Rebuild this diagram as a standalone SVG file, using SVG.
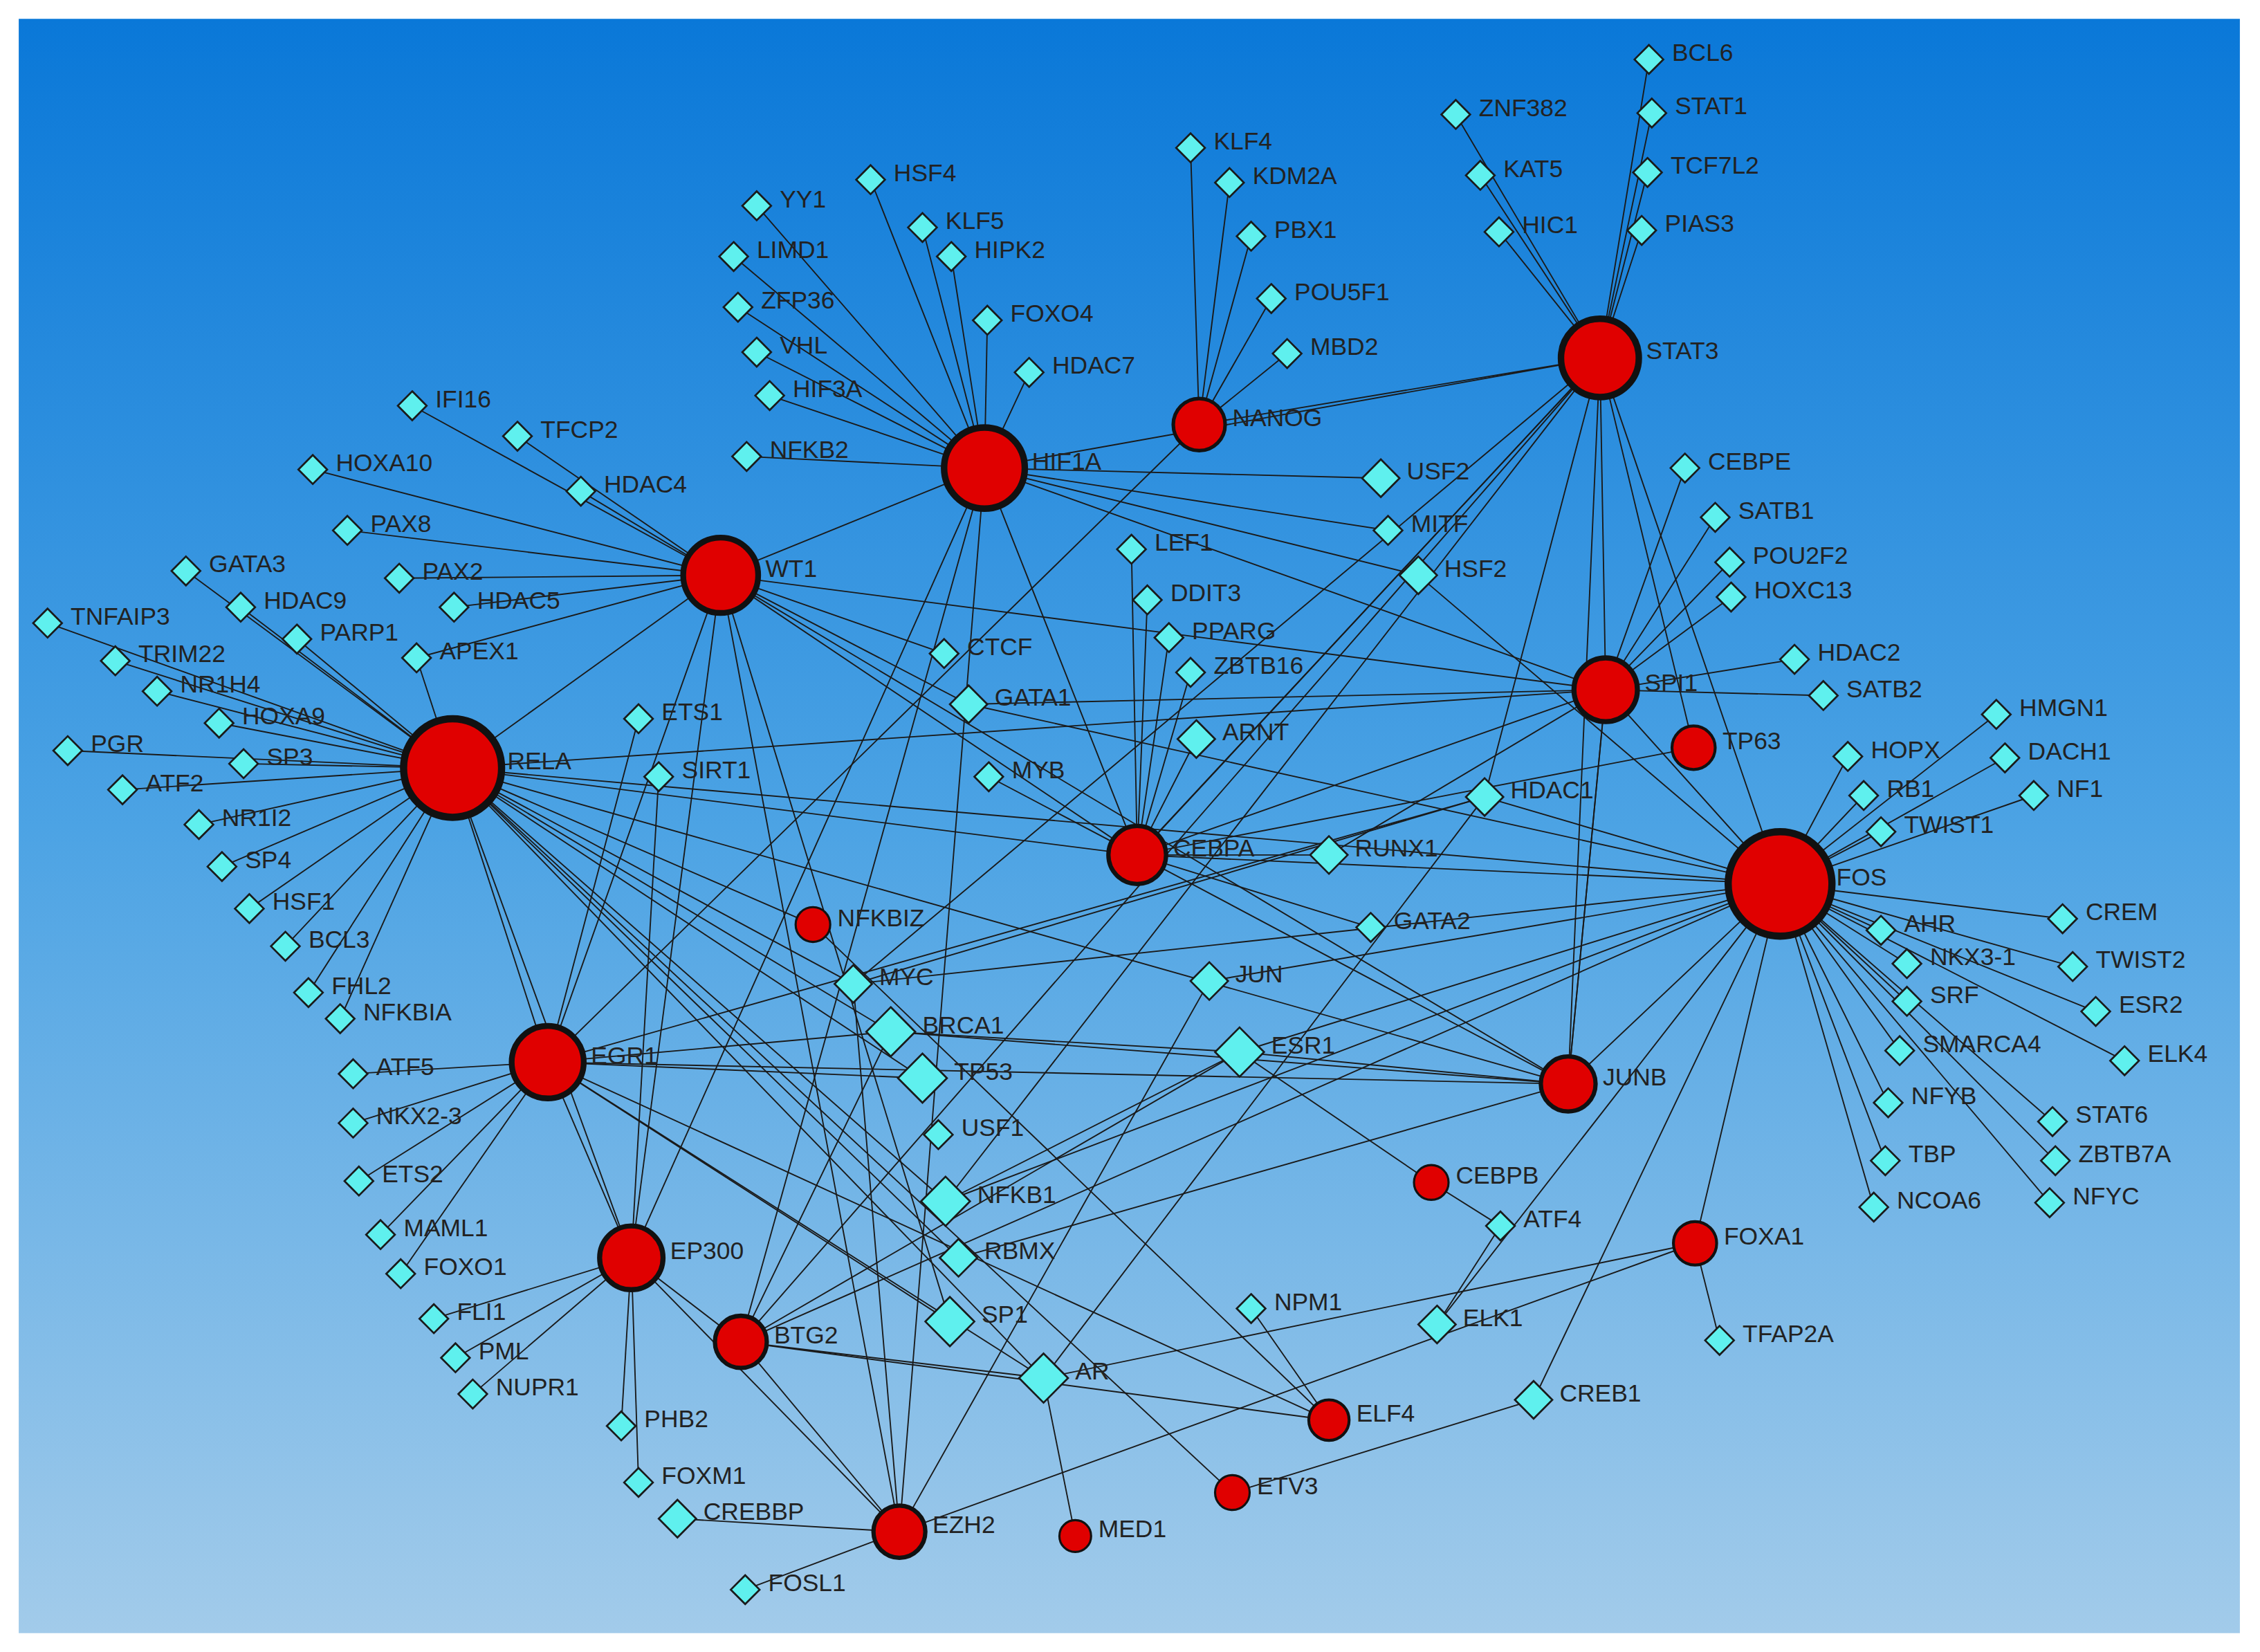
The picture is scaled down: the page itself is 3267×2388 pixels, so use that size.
<svg xmlns="http://www.w3.org/2000/svg" xmlns:xlink="http://www.w3.org/1999/xlink" width="3267" height="2388" viewBox="0 0 3267 2388">
<defs>
<linearGradient id="bg" x1="0" y1="0" x2="0" y2="1"><stop offset="0" stop-color="#0a78d8"/><stop offset="0.5" stop-color="#4ca3e4"/><stop offset="1" stop-color="#a2cbea"/></linearGradient>
<path id="d" d="M0,-10 L10,0 0,10 -10,0Z"/>
<path id="dm" d="M0,-13 L13,0 0,13 -13,0Z"/>
<path id="dl" d="M0,-17 L17,0 0,17 -17,0Z"/>
</defs>
<style>
.e line{stroke:#1a1a1a;stroke-width:0.9}
use{fill:#5ff0ee;stroke:#1a1a1a;stroke-width:1.3}
circle{fill:#e00000;stroke:#111}
text{font-family:"Liberation Sans",Arial,sans-serif;font-size:17px;fill:#222}
</style>
<rect width="3267" height="2388" fill="#fff"/>
<g transform="scale(2.0836,2.0947)">
<rect x="13" y="13" width="1541" height="1114" fill="url(#bg)"/>
<g class="e" id="connectors">
<!-- STAT3 -->
<line x1="1110" y1="247" x2="1144" y2="41"/><line x1="1110" y1="247" x2="1146" y2="78"/><line x1="1110" y1="247" x2="1143" y2="119"/><line x1="1110" y1="247" x2="1139" y2="159"/><line x1="1110" y1="247" x2="1010" y2="79"/><line x1="1110" y1="247" x2="1027" y2="121"/><line x1="1110" y1="247" x2="1040" y2="160"/>
<line x1="1110" y1="247" x2="832" y2="293"/><line x1="1110" y1="247" x2="683" y2="323"/><line x1="1110" y1="247" x2="1114" y2="476"/><line x1="1110" y1="247" x2="1235" y2="610"/><line x1="1110" y1="247" x2="1175" y2="516"/><line x1="1110" y1="247" x2="789" y2="590"/><line x1="1110" y1="247" x2="794" y2="585"/><line x1="1110" y1="247" x2="1088" y2="748"/><line x1="1110" y1="247" x2="592" y2="679"/><line x1="1110" y1="247" x2="1030" y2="550"/><line x1="1110" y1="247" x2="514" y2="926"/>
<!-- NANOG -->
<line x1="832" y1="293" x2="826" y2="102"/><line x1="832" y1="293" x2="853" y2="126"/><line x1="832" y1="293" x2="868" y2="163"/><line x1="832" y1="293" x2="882" y2="206"/><line x1="832" y1="293" x2="893" y2="244"/><line x1="832" y1="293" x2="380" y2="733"/>
<!-- HIF1A -->
<line x1="683" y1="323" x2="604" y2="124"/><line x1="683" y1="323" x2="525" y2="142"/><line x1="683" y1="323" x2="640" y2="157"/><line x1="683" y1="323" x2="660" y2="177"/><line x1="683" y1="323" x2="509" y2="177"/><line x1="683" y1="323" x2="512" y2="212"/><line x1="683" y1="323" x2="685" y2="221"/><line x1="683" y1="323" x2="525" y2="243"/><line x1="683" y1="323" x2="714" y2="257"/><line x1="683" y1="323" x2="534" y2="273"/><line x1="683" y1="323" x2="518" y2="315"/>
<line x1="683" y1="323" x2="500" y2="397"/><line x1="683" y1="323" x2="958" y2="330"/><line x1="683" y1="323" x2="963" y2="366"/><line x1="683" y1="323" x2="984" y2="397"/><line x1="683" y1="323" x2="789" y2="590"/><line x1="683" y1="323" x2="624" y2="1057"/><line x1="683" y1="323" x2="438" y2="868"/><line x1="683" y1="323" x2="514" y2="926"/><line x1="683" y1="323" x2="1114" y2="476"/><line x1="984" y1="397" x2="1235" y2="610"/>
<!-- WT1 -->
<line x1="500" y1="397" x2="286" y2="280"/><line x1="500" y1="397" x2="359" y2="301"/><line x1="500" y1="397" x2="217" y2="324"/><line x1="500" y1="397" x2="403" y2="339"/><line x1="500" y1="397" x2="241" y2="366"/><line x1="500" y1="397" x2="277" y2="399"/><line x1="500" y1="397" x2="315" y2="419"/><line x1="500" y1="397" x2="289" y2="454"/>
<line x1="500" y1="397" x2="314" y2="530"/><line x1="500" y1="397" x2="655" y2="451"/><line x1="500" y1="397" x2="672" y2="486"/><line x1="500" y1="397" x2="789" y2="590"/><line x1="500" y1="397" x2="438" y2="868"/><line x1="500" y1="397" x2="380" y2="733"/><line x1="500" y1="397" x2="659" y2="912"/><line x1="500" y1="397" x2="1088" y2="748"/><line x1="500" y1="397" x2="1114" y2="476"/>
<!-- RELA -->
<line x1="314" y1="530" x2="129" y2="394"/><line x1="314" y1="530" x2="167" y2="419"/><line x1="314" y1="530" x2="206" y2="441"/><line x1="314" y1="530" x2="33" y2="430"/><line x1="314" y1="530" x2="80" y2="456"/><line x1="314" y1="530" x2="109" y2="477"/><line x1="314" y1="530" x2="152" y2="499"/><line x1="314" y1="530" x2="47" y2="518"/><line x1="314" y1="530" x2="169" y2="527"/><line x1="314" y1="530" x2="85" y2="545"/><line x1="314" y1="530" x2="138" y2="569"/><line x1="314" y1="530" x2="154" y2="598"/><line x1="314" y1="530" x2="173" y2="627"/><line x1="314" y1="530" x2="198" y2="653"/><line x1="314" y1="530" x2="214" y2="685"/><line x1="314" y1="530" x2="236" y2="703"/><line x1="314" y1="530" x2="289" y2="454"/>
<line x1="314" y1="530" x2="380" y2="733"/><line x1="314" y1="530" x2="438" y2="868"/><line x1="314" y1="530" x2="789" y2="590"/><line x1="314" y1="530" x2="1114" y2="476"/><line x1="314" y1="530" x2="1088" y2="748"/><line x1="314" y1="530" x2="656" y2="829"/><line x1="314" y1="530" x2="640" y2="744"/><line x1="314" y1="530" x2="724" y2="951"/><line x1="314" y1="530" x2="618" y2="712"/><line x1="314" y1="530" x2="592" y2="679"/><line x1="314" y1="530" x2="855" y2="1030"/><line x1="314" y1="530" x2="564" y2="638"/><line x1="314" y1="530" x2="665" y2="868"/>
<!-- FOS -->
<line x1="1235" y1="610" x2="1385" y2="493"/><line x1="1235" y1="610" x2="1282" y2="522"/><line x1="1235" y1="610" x2="1391" y2="523"/><line x1="1235" y1="610" x2="1293" y2="549"/><line x1="1235" y1="610" x2="1411" y2="549"/><line x1="1235" y1="610" x2="1305" y2="574"/><line x1="1235" y1="610" x2="1431" y2="634"/><line x1="1235" y1="610" x2="1305" y2="642"/><line x1="1235" y1="610" x2="1323" y2="665"/><line x1="1235" y1="610" x2="1438" y2="667"/><line x1="1235" y1="610" x2="1323" y2="691"/><line x1="1235" y1="610" x2="1454" y2="698"/><line x1="1235" y1="610" x2="1318" y2="725"/><line x1="1235" y1="610" x2="1474" y2="732"/><line x1="1235" y1="610" x2="1310" y2="761"/><line x1="1235" y1="610" x2="1424" y2="774"/><line x1="1235" y1="610" x2="1308" y2="801"/><line x1="1235" y1="610" x2="1426" y2="801"/><line x1="1235" y1="610" x2="1300" y2="833"/><line x1="1235" y1="610" x2="1422" y2="830"/>
<line x1="1235" y1="610" x2="1114" y2="476"/><line x1="1235" y1="610" x2="789" y2="590"/><line x1="1235" y1="610" x2="1088" y2="748"/><line x1="1235" y1="610" x2="1176" y2="858"/><line x1="1235" y1="610" x2="514" y2="926"/><line x1="1235" y1="610" x2="1030" y2="550"/><line x1="1235" y1="610" x2="860" y2="726"/><line x1="1235" y1="610" x2="839" y2="677"/><line x1="1235" y1="610" x2="1064" y2="966"/><line x1="1235" y1="610" x2="656" y2="829"/><line x1="1235" y1="610" x2="997" y2="914"/><line x1="1235" y1="610" x2="672" y2="486"/><line x1="1235" y1="610" x2="314" y2="530"/>
<!-- SPI1 -->
<line x1="1114" y1="476" x2="1169" y2="323"/><line x1="1114" y1="476" x2="1190" y2="357"/><line x1="1114" y1="476" x2="1200" y2="388"/><line x1="1114" y1="476" x2="1201" y2="412"/><line x1="1114" y1="476" x2="1245" y2="455"/><line x1="1114" y1="476" x2="1265" y2="480"/><line x1="1114" y1="476" x2="672" y2="486"/><line x1="1114" y1="476" x2="789" y2="590"/><line x1="1114" y1="476" x2="1088" y2="748"/><line x1="1114" y1="476" x2="922" y2="590"/>
<!-- CEBPA -->
<line x1="789" y1="590" x2="785" y2="379"/><line x1="789" y1="590" x2="796" y2="414"/><line x1="789" y1="590" x2="811" y2="440"/><line x1="789" y1="590" x2="826" y2="464"/><line x1="789" y1="590" x2="830" y2="510"/><line x1="789" y1="590" x2="951" y2="640"/><line x1="789" y1="590" x2="1088" y2="748"/><line x1="789" y1="590" x2="686" y2="536"/><line x1="789" y1="590" x2="1175" y2="516"/><line x1="789" y1="590" x2="922" y2="590"/>
<!-- EGR1 -->
<line x1="380" y1="733" x2="245" y2="741"/><line x1="380" y1="733" x2="245" y2="775"/><line x1="380" y1="733" x2="249" y2="815"/><line x1="380" y1="733" x2="264" y2="852"/><line x1="380" y1="733" x2="278" y2="879"/><line x1="380" y1="733" x2="438" y2="868"/><line x1="380" y1="733" x2="618" y2="712"/><line x1="380" y1="733" x2="640" y2="744"/><line x1="380" y1="733" x2="1088" y2="748"/><line x1="380" y1="733" x2="659" y2="912"/><line x1="380" y1="733" x2="724" y2="951"/><line x1="380" y1="733" x2="443" y2="496"/><line x1="380" y1="733" x2="922" y2="980"/><line x1="380" y1="733" x2="1030" y2="550"/>
<!-- EP300 -->
<line x1="438" y1="868" x2="301" y2="910"/><line x1="438" y1="868" x2="316" y2="937"/><line x1="438" y1="868" x2="328" y2="962"/><line x1="438" y1="868" x2="431" y2="984"/><line x1="438" y1="868" x2="443" y2="1023"/><line x1="438" y1="868" x2="514" y2="926"/><line x1="438" y1="868" x2="624" y2="1057"/><line x1="438" y1="868" x2="457" y2="536"/>
<!-- BTG2 -->
<line x1="514" y1="926" x2="618" y2="712"/><line x1="514" y1="926" x2="724" y2="951"/><line x1="514" y1="926" x2="922" y2="980"/><line x1="514" y1="926" x2="624" y2="1057"/><line x1="514" y1="926" x2="860" y2="726"/>
<!-- EZH2 -->
<line x1="624" y1="1057" x2="470" y2="1048"/><line x1="624" y1="1057" x2="517" y2="1097"/><line x1="624" y1="1057" x2="1176" y2="858"/><line x1="624" y1="1057" x2="839" y2="677"/><line x1="624" y1="1057" x2="500" y2="397"/><line x1="624" y1="1057" x2="592" y2="679"/>
<!-- JUNB / ESR1 / others -->
<line x1="1088" y1="748" x2="860" y2="726"/><line x1="1088" y1="748" x2="618" y2="712"/><line x1="1088" y1="748" x2="665" y2="868"/><line x1="1088" y1="748" x2="1114" y2="476"/>
<line x1="860" y1="726" x2="993" y2="816"/><line x1="860" y1="726" x2="656" y2="829"/><line x1="860" y1="726" x2="618" y2="712"/>
<line x1="724" y1="951" x2="1176" y2="858"/><line x1="724" y1="951" x2="746" y2="1060"/><line x1="724" y1="951" x2="1030" y2="550"/>
<line x1="1176" y1="858" x2="1193" y2="925"/>
<line x1="922" y1="980" x2="868" y2="903"/><line x1="922" y1="980" x2="564" y2="638"/>
<line x1="855" y1="1030" x2="1064" y2="966"/>
<line x1="993" y1="816" x2="1041" y2="846"/>
<line x1="997" y1="914" x2="1041" y2="846"/>
<line x1="592" y1="679" x2="1030" y2="550"/><line x1="592" y1="679" x2="1235" y2="610"/>
<line x1="656" y1="829" x2="1110" y2="247"/>
</g>
<g id="diamonds">
<g id="BCL6"><use href="#d" x="1144" y="41"/><text x="1160" y="42">BCL6</text></g>
<g id="STAT1"><use href="#d" x="1146" y="78"/><text x="1162" y="79">STAT1</text></g>
<g id="TCF7L2"><use href="#d" x="1143" y="119"/><text x="1159" y="120">TCF7L2</text></g>
<g id="PIAS3"><use href="#d" x="1139" y="159"/><text x="1155" y="160">PIAS3</text></g>
<g id="ZNF382"><use href="#d" x="1010" y="79"/><text x="1026" y="80">ZNF382</text></g>
<g id="KAT5"><use href="#d" x="1027" y="121"/><text x="1043" y="122">KAT5</text></g>
<g id="HIC1"><use href="#d" x="1040" y="160"/><text x="1056" y="161">HIC1</text></g>
<g id="KLF4"><use href="#d" x="826" y="102"/><text x="842" y="103">KLF4</text></g>
<g id="KDM2A"><use href="#d" x="853" y="126"/><text x="869" y="127">KDM2A</text></g>
<g id="PBX1"><use href="#d" x="868" y="163"/><text x="884" y="164">PBX1</text></g>
<g id="POU5F1"><use href="#d" x="882" y="206"/><text x="898" y="207">POU5F1</text></g>
<g id="MBD2"><use href="#d" x="893" y="244"/><text x="909" y="245">MBD2</text></g>
<g id="HSF4"><use href="#d" x="604" y="124"/><text x="620" y="125">HSF4</text></g>
<g id="YY1"><use href="#d" x="525" y="142"/><text x="541" y="143">YY1</text></g>
<g id="KLF5"><use href="#d" x="640" y="157"/><text x="656" y="158">KLF5</text></g>
<g id="HIPK2"><use href="#d" x="660" y="177"/><text x="676" y="178">HIPK2</text></g>
<g id="LIMD1"><use href="#d" x="509" y="177"/><text x="525" y="178">LIMD1</text></g>
<g id="ZFP36"><use href="#d" x="512" y="212"/><text x="528" y="213">ZFP36</text></g>
<g id="FOXO4"><use href="#d" x="685" y="221"/><text x="701" y="222">FOXO4</text></g>
<g id="VHL"><use href="#d" x="525" y="243"/><text x="541" y="244">VHL</text></g>
<g id="HDAC7"><use href="#d" x="714" y="257"/><text x="730" y="258">HDAC7</text></g>
<g id="HIF3A"><use href="#d" x="534" y="273"/><text x="550" y="274">HIF3A</text></g>
<g id="NFKB2"><use href="#d" x="518" y="315"/><text x="534" y="316">NFKB2</text></g>
<g id="IFI16"><use href="#d" x="286" y="280"/><text x="302" y="281">IFI16</text></g>
<g id="TFCP2"><use href="#d" x="359" y="301"/><text x="375" y="302">TFCP2</text></g>
<g id="HOXA10"><use href="#d" x="217" y="324"/><text x="233" y="325">HOXA10</text></g>
<g id="HDAC4"><use href="#d" x="403" y="339"/><text x="419" y="340">HDAC4</text></g>
<g id="PAX8"><use href="#d" x="241" y="366"/><text x="257" y="367">PAX8</text></g>
<g id="PAX2"><use href="#d" x="277" y="399"/><text x="293" y="400">PAX2</text></g>
<g id="HDAC5"><use href="#d" x="315" y="419"/><text x="331" y="420">HDAC5</text></g>
<g id="GATA3"><use href="#d" x="129" y="394"/><text x="145" y="395">GATA3</text></g>
<g id="HDAC9"><use href="#d" x="167" y="419"/><text x="183" y="420">HDAC9</text></g>
<g id="PARP1"><use href="#d" x="206" y="441"/><text x="222" y="442">PARP1</text></g>
<g id="TNFAIP3"><use href="#d" x="33" y="430"/><text x="49" y="431">TNFAIP3</text></g>
<g id="TRIM22"><use href="#d" x="80" y="456"/><text x="96" y="457">TRIM22</text></g>
<g id="NR1H4"><use href="#d" x="109" y="477"/><text x="125" y="478">NR1H4</text></g>
<g id="APEX1"><use href="#d" x="289" y="454"/><text x="305" y="455">APEX1</text></g>
<g id="HOXA9"><use href="#d" x="152" y="499"/><text x="168" y="500">HOXA9</text></g>
<g id="PGR"><use href="#d" x="47" y="518"/><text x="63" y="519">PGR</text></g>
<g id="SP3"><use href="#d" x="169" y="527"/><text x="185" y="528">SP3</text></g>
<g id="ATF2"><use href="#d" x="85" y="545"/><text x="101" y="546">ATF2</text></g>
<g id="NR1I2"><use href="#d" x="138" y="569"/><text x="154" y="570">NR1I2</text></g>
<g id="SP4"><use href="#d" x="154" y="598"/><text x="170" y="599">SP4</text></g>
<g id="HSF1"><use href="#d" x="173" y="627"/><text x="189" y="628">HSF1</text></g>
<g id="BCL3"><use href="#d" x="198" y="653"/><text x="214" y="654">BCL3</text></g>
<g id="FHL2"><use href="#d" x="214" y="685"/><text x="230" y="686">FHL2</text></g>
<g id="NFKBIA"><use href="#d" x="236" y="703"/><text x="252" y="704">NFKBIA</text></g>
<g id="ETS1"><use href="#d" x="443" y="496"/><text x="459" y="497">ETS1</text></g>
<g id="SIRT1"><use href="#d" x="457" y="536"/><text x="473" y="537">SIRT1</text></g>
<g id="CTCF"><use href="#d" x="655" y="451"/><text x="671" y="452">CTCF</text></g>
<g id="GATA1"><use href="#dm" x="672" y="486"/><text x="690" y="487">GATA1</text></g>
<g id="MYB"><use href="#d" x="686" y="536"/><text x="702" y="537">MYB</text></g>
<g id="USF2"><use href="#dm" x="958" y="330"/><text x="976" y="331">USF2</text></g>
<g id="MITF"><use href="#d" x="963" y="366"/><text x="979" y="367">MITF</text></g>
<g id="HSF2"><use href="#dm" x="984" y="397"/><text x="1002" y="398">HSF2</text></g>
<g id="LEF1"><use href="#d" x="785" y="379"/><text x="801" y="380">LEF1</text></g>
<g id="DDIT3"><use href="#d" x="796" y="414"/><text x="812" y="415">DDIT3</text></g>
<g id="PPARG"><use href="#d" x="811" y="440"/><text x="827" y="441">PPARG</text></g>
<g id="ZBTB16"><use href="#d" x="826" y="464"/><text x="842" y="465">ZBTB16</text></g>
<g id="ARNT"><use href="#dm" x="830" y="510"/><text x="848" y="511">ARNT</text></g>
<g id="CEBPE"><use href="#d" x="1169" y="323"/><text x="1185" y="324">CEBPE</text></g>
<g id="SATB1"><use href="#d" x="1190" y="357"/><text x="1206" y="358">SATB1</text></g>
<g id="POU2F2"><use href="#d" x="1200" y="388"/><text x="1216" y="389">POU2F2</text></g>
<g id="HOXC13"><use href="#d" x="1201" y="412"/><text x="1217" y="413">HOXC13</text></g>
<g id="HDAC2"><use href="#d" x="1245" y="455"/><text x="1261" y="456">HDAC2</text></g>
<g id="SATB2"><use href="#d" x="1265" y="480"/><text x="1281" y="481">SATB2</text></g>
<g id="HDAC1"><use href="#dm" x="1030" y="550"/><text x="1048" y="551">HDAC1</text></g>
<g id="HMGN1"><use href="#d" x="1385" y="493"/><text x="1401" y="494">HMGN1</text></g>
<g id="HOPX"><use href="#d" x="1282" y="522"/><text x="1298" y="523">HOPX</text></g>
<g id="DACH1"><use href="#d" x="1391" y="523"/><text x="1407" y="524">DACH1</text></g>
<g id="RB1"><use href="#d" x="1293" y="549"/><text x="1309" y="550">RB1</text></g>
<g id="NF1"><use href="#d" x="1411" y="549"/><text x="1427" y="550">NF1</text></g>
<g id="TWIST1"><use href="#d" x="1305" y="574"/><text x="1321" y="575">TWIST1</text></g>
<g id="CREM"><use href="#d" x="1431" y="634"/><text x="1447" y="635">CREM</text></g>
<g id="AHR"><use href="#d" x="1305" y="642"/><text x="1321" y="643">AHR</text></g>
<g id="NKX3-1"><use href="#d" x="1323" y="665"/><text x="1339" y="666">NKX3-1</text></g>
<g id="TWIST2"><use href="#d" x="1438" y="667"/><text x="1454" y="668">TWIST2</text></g>
<g id="SRF"><use href="#d" x="1323" y="691"/><text x="1339" y="692">SRF</text></g>
<g id="ESR2"><use href="#d" x="1454" y="698"/><text x="1470" y="699">ESR2</text></g>
<g id="SMARCA4"><use href="#d" x="1318" y="725"/><text x="1334" y="726">SMARCA4</text></g>
<g id="ELK4"><use href="#d" x="1474" y="732"/><text x="1490" y="733">ELK4</text></g>
<g id="NFYB"><use href="#d" x="1310" y="761"/><text x="1326" y="762">NFYB</text></g>
<g id="STAT6"><use href="#d" x="1424" y="774"/><text x="1440" y="775">STAT6</text></g>
<g id="TBP"><use href="#d" x="1308" y="801"/><text x="1324" y="802">TBP</text></g>
<g id="ZBTB7A"><use href="#d" x="1426" y="801"/><text x="1442" y="802">ZBTB7A</text></g>
<g id="NCOA6"><use href="#d" x="1300" y="833"/><text x="1316" y="834">NCOA6</text></g>
<g id="NFYC"><use href="#d" x="1422" y="830"/><text x="1438" y="831">NFYC</text></g>
<g id="RUNX1"><use href="#dm" x="922" y="590"/><text x="940" y="591">RUNX1</text></g>
<g id="GATA2"><use href="#d" x="951" y="640"/><text x="967" y="641">GATA2</text></g>
<g id="JUN"><use href="#dm" x="839" y="677"/><text x="857" y="678">JUN</text></g>
<g id="MYC"><use href="#dm" x="592" y="679"/><text x="610" y="680">MYC</text></g>
<g id="BRCA1"><use href="#dl" x="618" y="712"/><text x="640" y="713">BRCA1</text></g>
<g id="TP53"><use href="#dl" x="640" y="744"/><text x="662" y="745">TP53</text></g>
<g id="USF1"><use href="#d" x="651" y="783"/><text x="667" y="784">USF1</text></g>
<g id="NFKB1"><use href="#dl" x="656" y="829"/><text x="678" y="830">NFKB1</text></g>
<g id="RBMX"><use href="#dm" x="665" y="868"/><text x="683" y="869">RBMX</text></g>
<g id="SP1"><use href="#dl" x="659" y="912"/><text x="681" y="913">SP1</text></g>
<g id="AR"><use href="#dl" x="724" y="951"/><text x="746" y="952">AR</text></g>
<g id="ESR1"><use href="#dl" x="860" y="726"/><text x="882" y="727">ESR1</text></g>
<g id="NPM1"><use href="#d" x="868" y="903"/><text x="884" y="904">NPM1</text></g>
<g id="ELK1"><use href="#dm" x="997" y="914"/><text x="1015" y="915">ELK1</text></g>
<g id="ATF4"><use href="#d" x="1041" y="846"/><text x="1057" y="847">ATF4</text></g>
<g id="CREB1"><use href="#dm" x="1064" y="966"/><text x="1082" y="967">CREB1</text></g>
<g id="TFAP2A"><use href="#d" x="1193" y="925"/><text x="1209" y="926">TFAP2A</text></g>
<g id="ATF5"><use href="#d" x="245" y="741"/><text x="261" y="742">ATF5</text></g>
<g id="NKX2-3"><use href="#d" x="245" y="775"/><text x="261" y="776">NKX2-3</text></g>
<g id="ETS2"><use href="#d" x="249" y="815"/><text x="265" y="816">ETS2</text></g>
<g id="MAML1"><use href="#d" x="264" y="852"/><text x="280" y="853">MAML1</text></g>
<g id="FOXO1"><use href="#d" x="278" y="879"/><text x="294" y="880">FOXO1</text></g>
<g id="FLI1"><use href="#d" x="301" y="910"/><text x="317" y="911">FLI1</text></g>
<g id="PML"><use href="#d" x="316" y="937"/><text x="332" y="938">PML</text></g>
<g id="NUPR1"><use href="#d" x="328" y="962"/><text x="344" y="963">NUPR1</text></g>
<g id="PHB2"><use href="#d" x="431" y="984"/><text x="447" y="985">PHB2</text></g>
<g id="FOXM1"><use href="#d" x="443" y="1023"/><text x="459" y="1024">FOXM1</text></g>
<g id="CREBBP"><use href="#dm" x="470" y="1048"/><text x="488" y="1049">CREBBP</text></g>
<g id="FOSL1"><use href="#d" x="517" y="1097"/><text x="533" y="1098">FOSL1</text></g>
</g>
<g id="hubs">
<g id="RELA"><circle cx="314" cy="530" r="34" stroke-width="5"/><text x="352" y="531">RELA</text></g>
<g id="FOS"><circle cx="1235" cy="610" r="36" stroke-width="5"/><text x="1274" y="611">FOS</text></g>
<g id="HIF1A"><circle cx="683" cy="323" r="28" stroke-width="4.5"/><text x="716" y="324">HIF1A</text></g>
<g id="STAT3"><circle cx="1110" cy="247" r="27" stroke-width="4.5"/><text x="1142" y="248">STAT3</text></g>
<g id="WT1"><circle cx="500" cy="397" r="26" stroke-width="4"/><text x="531" y="398">WT1</text></g>
<g id="EGR1"><circle cx="380" cy="733" r="25" stroke-width="4"/><text x="410" y="734">EGR1</text></g>
<g id="EP300"><circle cx="438" cy="868" r="22" stroke-width="3.5"/><text x="465" y="869">EP300</text></g>
<g id="SPI1"><circle cx="1114" cy="476" r="22" stroke-width="3.5"/><text x="1141" y="477">SPI1</text></g>
<g id="CEBPA"><circle cx="789" cy="590" r="20" stroke-width="3"/><text x="814" y="591">CEBPA</text></g>
<g id="JUNB"><circle cx="1088" cy="748" r="19" stroke-width="3"/><text x="1112" y="749">JUNB</text></g>
<g id="BTG2"><circle cx="514" cy="926" r="18" stroke-width="3"/><text x="537" y="927">BTG2</text></g>
<g id="EZH2"><circle cx="624" cy="1057" r="18" stroke-width="3"/><text x="647" y="1058">EZH2</text></g>
<g id="NANOG"><circle cx="832" cy="293" r="18" stroke-width="2.5"/><text x="855" y="294">NANOG</text></g>
<g id="FOXA1"><circle cx="1176" cy="858" r="15" stroke-width="2"/><text x="1196" y="859">FOXA1</text></g>
<g id="TP63"><circle cx="1175" cy="516" r="15" stroke-width="2"/><text x="1195" y="517">TP63</text></g>
<g id="ELF4"><circle cx="922" cy="980" r="14" stroke-width="2"/><text x="941" y="981">ELF4</text></g>
<g id="ETV3"><circle cx="855" cy="1030" r="12" stroke-width="1.5"/><text x="872" y="1031">ETV3</text></g>
<g id="MED1"><circle cx="746" cy="1060" r="11" stroke-width="1.5"/><text x="762" y="1061">MED1</text></g>
<g id="CEBPB"><circle cx="993" cy="816" r="12" stroke-width="1.5"/><text x="1010" y="817">CEBPB</text></g>
<g id="NFKBIZ"><circle cx="564" cy="638" r="12" stroke-width="1.5"/><text x="581" y="639">NFKBIZ</text></g>
</g>
</g>
</svg>
